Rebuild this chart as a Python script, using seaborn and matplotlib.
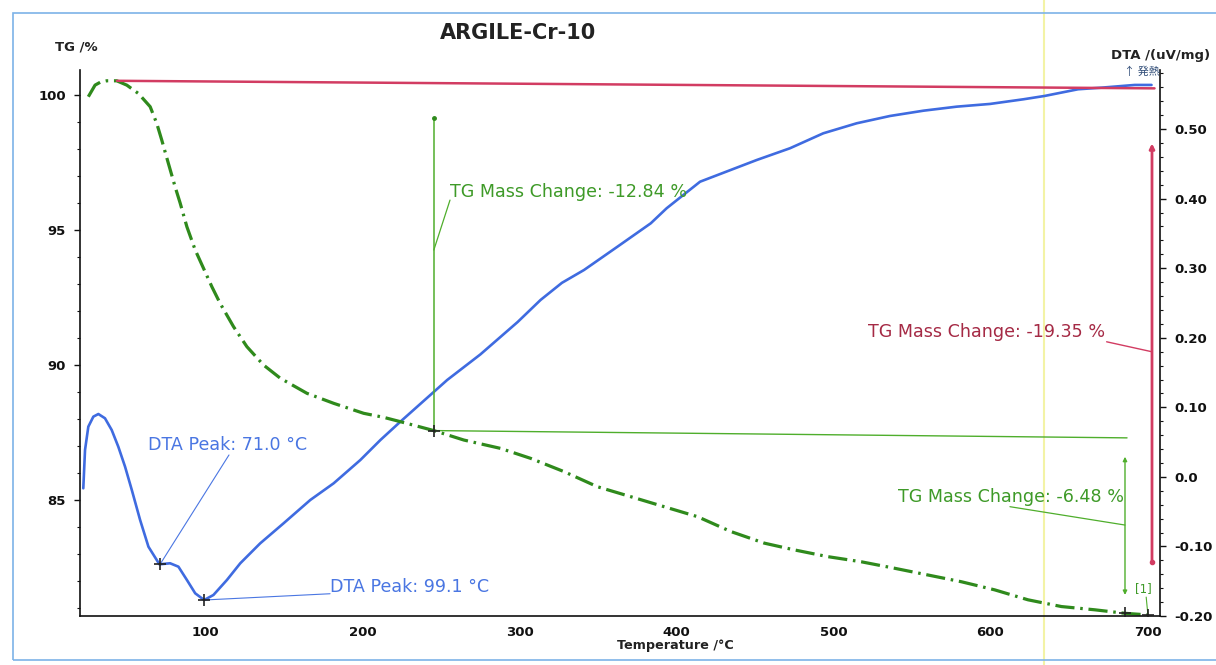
import matplotlib
matplotlib.use("Agg")
import matplotlib.pyplot as plt
from matplotlib.ticker import MultipleLocator
from matplotlib.lines import Line2D
from matplotlib.patches import Rectangle
import seaborn as sns
import pandas as pd

# ---------------- data ----------------
tg_temp = [25.3, 29.6, 33.0, 37.0, 43.4, 49.8, 57.2, 64.7, 68.9, 72.1, 76.3, 80.6, 83.8, 88.1,
           93.4, 98.7, 104.0, 109.3, 117.8, 126.3, 136.9, 147.6, 164.6, 181.6, 200.7, 213.5,
           224.1, 245.4, 264.5, 287.9, 307.1, 328.3, 349.6, 370.9, 392.1, 413.4, 434.6, 455.9,
           475.0, 496.3, 517.6, 538.8, 560.1, 581.4, 602.6, 623.9, 645.2, 666.4, 685.6, 700.4]
tg_value = [99.94, 100.37, 100.48, 100.53, 100.53, 100.37, 100.06, 99.57, 98.95, 98.33, 97.47,
            96.60, 96.00, 95.12, 94.26, 93.58, 92.90, 92.28, 91.42, 90.68, 90.00, 89.51, 88.95,
            88.58, 88.21, 88.06, 87.90, 87.57, 87.22, 86.91, 86.54, 86.05, 85.49, 85.12, 84.75,
            84.38, 83.83, 83.40, 83.15, 82.90, 82.71, 82.47, 82.22, 81.97, 81.67, 81.30, 81.05,
            80.93, 80.80, 80.74]

dta_temp = [22.1, 23.2, 25.3, 28.5, 31.7, 35.9, 40.2, 44.4, 48.7, 53.0, 58.3, 63.6, 70.6,
            77.4, 82.7, 88.1, 93.4, 99.1, 105.0, 113.6, 122.1, 134.8, 149.7, 166.7, 181.6,
            198.6, 211.4, 224.1, 253.9, 275.0, 298.8, 313.4, 327.0, 341.1, 362.4, 383.6, 393.7,
            415.0, 451.1, 472.3, 493.5, 514.8, 536.0, 557.3, 578.5, 599.7, 621.0, 634.5,
            655.8, 670.7, 691.9, 702.6]
dta_value = [-0.0164, 0.0387, 0.0722, 0.0866, 0.0904, 0.0843, 0.0674, 0.0434, 0.0147, -0.0188,
             -0.0620, -0.1004, -0.1257, -0.1242, -0.1291, -0.1482, -0.1674, -0.1770, -0.1698,
             -0.1482, -0.1242, -0.0955, -0.0667, -0.0332, -0.0092, 0.0243, 0.0531, 0.0794,
             0.1393, 0.1760, 0.2227, 0.2544, 0.2790, 0.2975, 0.3310, 0.3646, 0.3862, 0.4244,
             0.4556, 0.4725, 0.4940, 0.5084, 0.5189, 0.5265, 0.5323, 0.5362, 0.5429, 0.5477,
             0.5573, 0.5596, 0.5635, 0.5635]

x_ticks = [100, 200, 300, 400, 500, 600, 700]
x_tick_labels = ["100", "200", "300", "400", "500", "600", "700"]
tg_ticks = [85, 90, 95, 100]
tg_tick_labels = ["85", "90", "95", "100"]
dta_ticks = [-0.20, -0.10, 0.0, 0.10, 0.20, 0.30, 0.40, 0.50]
dta_tick_labels = ["-0.20", "-0.10", "0.0", "0.10", "0.20", "0.30", "0.40", "0.50"]

dta_peaks_t = [71.0, 99.1]
dta_peaks_v = [-0.1257, -0.1770]
tg_marks_t = [245.4, 685.6, 700.4]
tg_marks_v = [87.57, 80.80, 80.74]

title = "ARGILE-Cr-10"

# ---------------- colours ----------------
C_BLUE = "#3f6be0"
C_BLUE_TXT = "#4a76e2"
C_GREEN = "#2f8a1c"
C_GREEN_L = "#4fae2c"
C_GREEN_TXT = "#3e9a28"
C_RED = "#d23c62"
C_RED_TXT = "#a52a45"

sns.set_style("white")
plt.rcParams["font.family"] = ["DejaVu Sans", "Noto Sans CJK JP"]

W, H = 1216, 665
fig = plt.figure(figsize=(W / 100, H / 100), dpi=100)
ax = fig.add_axes([80 / W, 49 / H, 1080 / W, 546 / H])
ax2 = ax.twinx()

tg_df = pd.DataFrame({"T": tg_temp, "TG": tg_value})
dta_df = pd.DataFrame({"T": dta_temp, "DTA": dta_value})

sns.lineplot(data=dta_df, x="T", y="DTA", ax=ax2, color=C_BLUE, linewidth=1.9,
             estimator=None, sort=False)
sns.lineplot(data=tg_df, x="T", y="TG", ax=ax, color=C_GREEN, linewidth=2.3,
             estimator=None, sort=False)
ax.lines[-1].set_linestyle((0, (6.0, 1.8, 0.8, 1.8)))

ax.set_xlim(20, 708)
ax.set_ylim(80.70, 100.93)
ax2.set_ylim(-0.20, 0.585)

# put TG above DTA
ax.set_zorder(ax2.get_zorder() + 1)
ax.patch.set_visible(False)

# spines
for a in (ax, ax2):
    a.spines["top"].set_visible(False)
ax.spines["right"].set_visible(False)
ax2.spines["left"].set_visible(False)
ax2.spines["bottom"].set_visible(False)
for s in ("left", "bottom"):
    ax.spines[s].set_color("#111111")
    ax.spines[s].set_linewidth(1.2)
ax2.spines["right"].set_color("#111111")
ax2.spines["right"].set_linewidth(1.2)

# ticks
ax.set_xticks(x_ticks, x_tick_labels, fontweight="bold", fontsize=9.5)
ax.set_yticks(tg_ticks, tg_tick_labels, fontweight="bold", fontsize=9.5)
ax2.set_yticks(dta_ticks, dta_tick_labels, fontweight="bold", fontsize=9.5)
ax.xaxis.set_minor_locator(MultipleLocator(20))
ax.yaxis.set_minor_locator(MultipleLocator(1))
ax2.yaxis.set_minor_locator(MultipleLocator(0.02))
ax.tick_params(axis="x", which="major", direction="out", length=4, width=1, pad=3, colors="#111111")
ax.tick_params(axis="x", which="minor", direction="out", length=2.5, width=0.8, colors="#111111")
ax.tick_params(axis="y", which="major", direction="out", length=4, width=1, pad=6, colors="#111111")
ax.tick_params(axis="y", which="minor", direction="out", length=2.5, width=0.8, colors="#111111")
ax2.tick_params(axis="y", which="major", direction="out", length=4, width=1, pad=6, colors="#111111")
ax2.tick_params(axis="y", which="minor", direction="out", length=2.5, width=0.8, colors="#111111")
ax.set_xlabel("")
ax.set_ylabel("")
ax2.set_ylabel("")

# ---------------- markers ----------------
ax2.plot(dta_peaks_t, dta_peaks_v, linestyle="none", marker="+", color="#222222",
         markersize=9, markeredgewidth=1.2, zorder=5)
ax.plot(tg_marks_t, tg_marks_v, linestyle="none", marker="+", color="#222222",
        markersize=9, markeredgewidth=1.2, zorder=5)

FS_ANN = 12.6

# ---------------- DTA annotations ----------------
ax2.plot([71.0, 114.9], [-0.1257, 0.0315], color=C_BLUE_TXT, lw=0.8)
ax2.text(63.3, 0.046, "DTA Peak: 71.0 °C", color=C_BLUE_TXT, fontsize=FS_ANN, va="center", ha="left")
ax2.plot([99.1, 179.3], [-0.177, -0.168], color=C_BLUE_TXT, lw=0.8)
ax2.text(179.3, -0.158, "DTA Peak: 99.1 °C", color=C_BLUE_TXT, fontsize=FS_ANN, va="center", ha="left")

# ---------------- TG annotations ----------------
ax.plot([245.4, 245.4], [87.57, 99.15], color=C_GREEN_L, lw=1.1)
ax.plot([245.4], [99.15], marker="o", markersize=2.5, color=C_GREEN)
ax.plot([245.4, 255.7], [94.26, 96.11], color=C_GREEN_L, lw=0.9)
ax.text(255.7, 96.42, "TG Mass Change: -12.84 %", color=C_GREEN_TXT, fontsize=FS_ANN,
        va="center", ha="left")
ax.plot([245.4, 687.0], [87.57, 87.30], color=C_GREEN_L, lw=1.0)

ax.annotate("", xy=(685.7, 81.48), xytext=(685.7, 86.60),
            arrowprops=dict(arrowstyle="<|-|>", color=C_GREEN_L, lw=1.0,
                            mutation_scale=6, shrinkA=0, shrinkB=0))
ax.plot([685.7, 612.4], [84.07, 84.75], color=C_GREEN_L, lw=0.9)
ax.text(685.0, 85.12, "TG Mass Change: -6.48 %", color=C_GREEN_TXT, fontsize=FS_ANN,
        va="center", ha="right")
ax.text(697.2, 81.70, "[1]", color=C_GREEN_TXT, fontsize=8.5, va="center", ha="center")
ax.plot([699.2, 700.2], [81.40, 80.80], color=C_GREEN_L, lw=0.8)

# red total mass change
ax.plot([43.6, 704.5], [100.53, 100.25], color=C_RED, lw=1.8)
ax.annotate("", xy=(702.9, 98.21), xytext=(702.9, 82.71),
            arrowprops=dict(arrowstyle="-|>", color=C_RED, lw=2.0,
                            mutation_scale=7, shrinkA=0, shrinkB=0))
ax.plot([702.9], [82.71], marker="o", markersize=3, color=C_RED)
ax.plot([702.9, 674.0], [90.49, 90.86], color=C_RED, lw=1.0)
ax.text(673.0, 91.23, "TG Mass Change: -19.35 %", color=C_RED_TXT, fontsize=FS_ANN,
        va="center", ha="right")

# ---------------- figure texts ----------------
fig.text(518 / W, 1 - 33 / H, title, fontsize=15, fontweight="bold", ha="center", va="center",
         color="#222222")
fig.text(55 / W, 1 - 46.5 / H, "TG /%", fontsize=9.5, fontweight="bold", ha="left", va="center",
         color="#222222")
fig.text(1111 / W, 1 - 55 / H, "DTA /(uV/mg)", fontsize=9.5, fontweight="bold", ha="left",
         va="center", color="#222222")
fig.text(1124 / W, 1 - 71.5 / H, "↑ 発熱", fontsize=8, ha="left", va="center",
         color="#34507a", family=["Noto Sans CJK JP", "DejaVu Sans"])
fig.text(675 / W, 1 - 646 / H, "Temperature /°C", fontsize=9.2, fontweight="bold", ha="center",
         va="center", color="#222222")

# scan frame and artifact line
fig.add_artist(Rectangle((13 / W, 5 / H), (W + 10 - 13) / W, (H - 13 - 5) / H,
                         transform=fig.transFigure, fill=False, edgecolor="#7db3e8", lw=1.2))
fig.add_artist(Line2D([1044 / W, 1044 / W], [0, 1], transform=fig.transFigure,
                      color="#f3f3a6", lw=1.5, zorder=0))

fig.savefig("out.png", dpi=100, facecolor="white")
